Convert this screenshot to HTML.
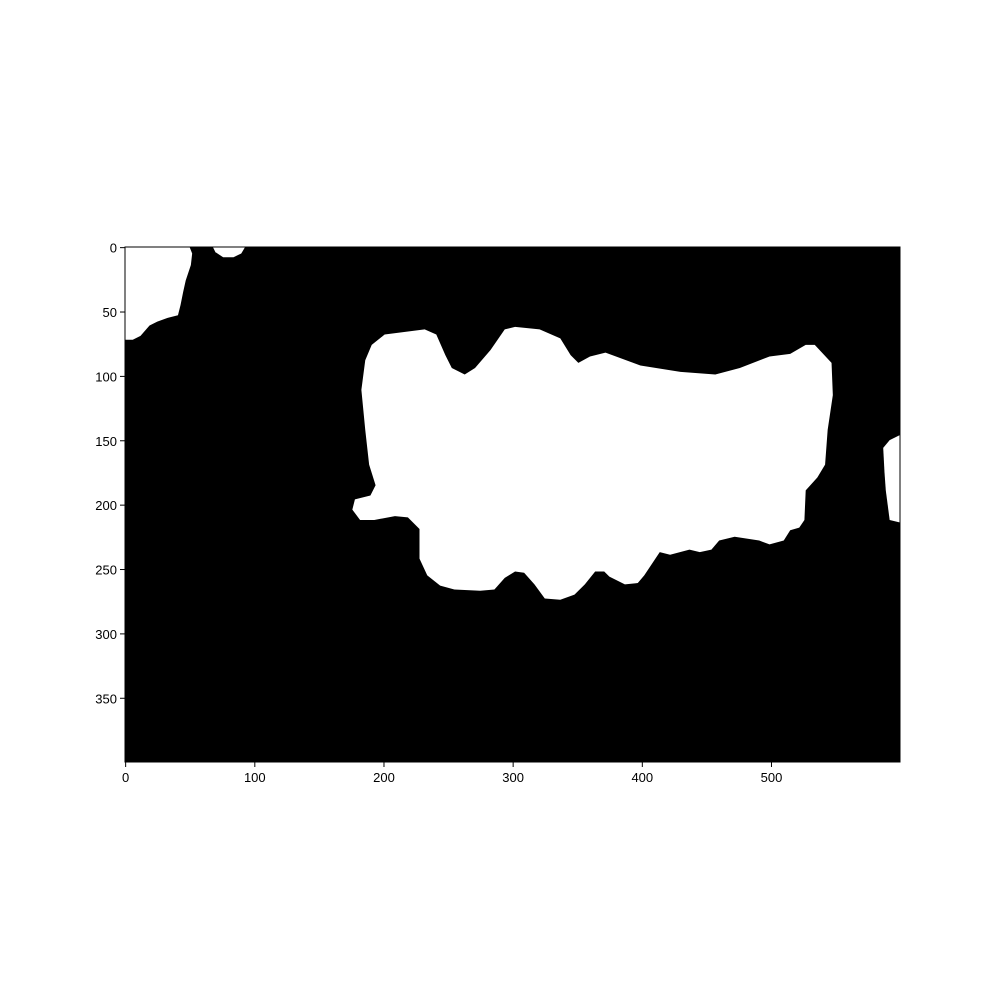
<!DOCTYPE html>
<html><head><meta charset="utf-8"><style>
html,body{margin:0;padding:0;background:#fff;width:1000px;height:1000px;overflow:hidden}
text{font-family:"Liberation Sans","DejaVu Sans",sans-serif;font-size:13px;fill:#000}
</style></head><body>
<svg id="chart" width="1000" height="1000" xmlns="http://www.w3.org/2000/svg"></svg>
<script>
const xTicks=[0,100,200,300,400,500];
const yTicks=[0,50,100,150,200,250,300,350];
const imgWidth=600, imgHeight=400;
const mainBlob=[[186,88],[191,76],[201,68],[232,64],[241,68],[248,84],[253,94],[263,99],[271,94],[283,80],[294,64],[302,62],[321,64],[337,71],[345,84],[351,90],[360,85],[372,82],[399,92],[430,97],[457,99],[476,94],[499,85],[515,83],[527,76],[534,76],[547,90],[548,115],[544,142],[542,169],[536,179],[527,189],[526,212],[522,218],[515,220],[510,228],[499,231],[491,228],[472,225],[460,228],[454,235],[445,237],[437,235],[422,239],[414,237],[410,243],[402,255],[397,261],[387,262],[375,256],[371,252],[364,252],[356,262],[348,270],[337,274],[325,273],[317,262],[309,253],[302,252],[294,257],[286,266],[275,267],[255,266],[244,263],[234,255],[228,242],[228,219],[219,210],[209,209],[193,212],[182,212],[176,204],[178,196],[190,193],[194,185],[189,169],[186,142],[183,111]];
const topLeftBlob=[[0,0],[50,0],[52,5],[51,14],[47,26],[45,35],[43,45],[41,53],[33,55],[25,58],[19,61],[12,69],[6,72],[0,72]];
const topBlob=[[68,0],[93,0],[90,5],[84,8],[76,8],[70,4]];
const rightBlob=[[600,146],[592,150],[587,156],[588,175],[589,189],[592,212],[600,214]];
const L=125,T=247,W=775,H=515;
const sx=v=>L+v/imgWidth*W;
const sy=v=>T+v/imgHeight*H;
const svg=document.getElementById('chart');
const NS='http://www.w3.org/2000/svg';
function mk(tag,attrs){const e=document.createElementNS(NS,tag);for(const k in attrs)e.setAttribute(k,attrs[k]);svg.appendChild(e);return e;}
let bg=mk('rect',{x:L,y:T,width:W,height:H,fill:'#000'});


const blobs=[['main-blob',mainBlob],['top-left-blob',topLeftBlob],['top-blob',topBlob],['right-blob',rightBlob]];
blobs.forEach(([n,pts])=>{
  const p=mk('polygon',{points:pts.map(q=>sx(q[0])+','+sy(q[1])).join(' '),fill:'#fff'});
  
  
});
let fr=mk('rect',{x:L,y:T,width:W,height:H,fill:'none',stroke:'#000','stroke-width':1});


xTicks.forEach(v=>{
  const x=sx(v+0.5);
  const t=mk('line',{x1:x,x2:x,y1:T+H,y2:T+H+5,stroke:'#000'});
  
  
  const lb=mk('text',{x:x,y:T+H+20,'text-anchor':'middle'});lb.textContent=v;
  
  
});
yTicks.forEach(v=>{
  const y=sy(v+0.5);
  const t=mk('line',{x1:L-5,x2:L,y1:y,y2:y,stroke:'#000'});
  
  
  const lb=mk('text',{x:L-8,y:y+5,'text-anchor':'end'});lb.textContent=v;
  
  
});
</script>
</body></html>
